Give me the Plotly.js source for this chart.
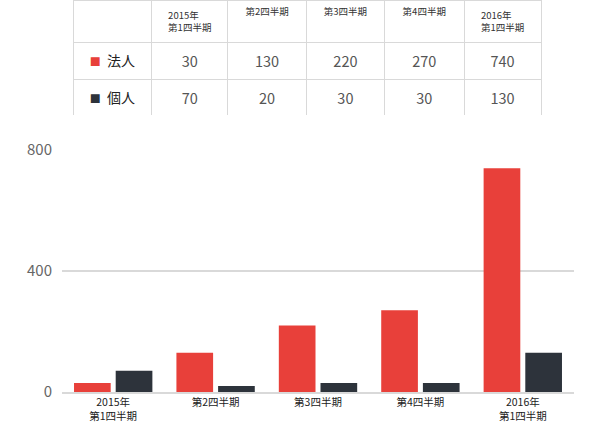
<!DOCTYPE html>
<html>
<head>
<meta charset="utf-8">
<script src="https://cdn.plot.ly/plotly-3.0.1.min.js"></script>
<style>
  html, body { margin: 0; padding: 0; background: #fff; }
  #chart { width: 590px; height: 424px; }
</style>
</head>
<body>
<div id="chart"></div>
<script>
// quarters (axis labels and table header)
var quarters = ['2015年<br>第1四半期', '第2四半期', '第3四半期', '第4四半期', '2016年<br>第1四半期'];
var seriesNames = ['法人', '個人'];
var corporate = [30, 130, 220, 270, 740];
var individual = [70, 20, 30, 30, 130];
var yTicks = [0, 400, 800];

var red = '#e8403a';
var dark = '#2d333b';
var jp = '"Noto Sans CJK JP", "Noto Sans", sans-serif';
var nb = '\u00a0';

var barCorp = {
    x: quarters,
    y: corporate,
    name: seriesNames[0],
    type: 'bar',
    marker: { color: red },
    hoverinfo: 'y'
};

var barIndiv = {
    x: quarters,
    y: individual,
    name: seriesNames[1],
    type: 'bar',
    marker: { color: dark },
    hoverinfo: 'y'
};

// table columns: the series labels with a colour square, then one column per quarter.
// The table wraps cell text at spaces; "<a href=" is the one tag it keeps whole,
// so the coloured square goes in an anchor with its style glued on after the href.
function swatch(color, label) {
    return '<a href="#"style="color:' + color + ';font-size:11px">■</a>' + nb + nb + label;
}
// numbers go through the same markup path so they sit on the same line as the labels
function num(v) {
    return '<span>' + v + '</span>';
}
var cellCols = [[swatch(red, seriesNames[0]), swatch(dark, seriesNames[1])]];
var cellColors = ['#222'];
var cellSizes = [14];
for (var i = 0; i < quarters.length; i++) {
    cellCols.push([num(corporate[i]), num(individual[i])]);
    cellColors.push('#555');
    cellSizes.push(14.5);
}

var table = {
    type: 'table',
    domain: { x: [0.0215, 0.9375], y: [0.705, 1] },
    columnwidth: [79, 76, 79, 78, 80, 77],
    header: {
        values: [''].concat(quarters),
        align: 'center',
        height: 38,
        fill: { color: '#fff' },
        line: { color: '#d9d9d9', width: 1 },
        font: { family: jp, size: 9.5, color: '#333' }
    },
    cells: {
        values: cellCols,
        align: 'center',
        height: 37,
        fill: { color: '#fff' },
        line: { color: '#d9d9d9', width: 1 },
        font: { family: jp, size: cellSizes, color: cellColors }
    }
};

var layout = {
    width: 590,
    height: 424,
    margin: { l: 62, r: 16, t: 0, b: 32 },
    paper_bgcolor: '#fff',
    plot_bgcolor: '#fff',
    showlegend: false,
    barmode: 'group',
    bargap: 0.186,
    bargroupgap: 0.12,
    font: { family: jp, color: '#333' },
    xaxis: {
        tickfont: { family: jp, size: 10.5, color: '#222' },
        showline: true,
        linecolor: '#d9d9d9',
        linewidth: 1.5,
        ticks: '',
        fixedrange: true
    },
    yaxis: {
        domain: [0, 0.6173],
        range: [0, 800],
        tickvals: yTicks,
        tickfont: { family: jp, size: 15, color: '#666' },
        gridcolor: '#d9d9d9',
        gridwidth: 1.5,
        zeroline: false,
        ticks: 'outside',
        ticklen: 6,
        tickcolor: 'rgba(0,0,0,0)',
        fixedrange: true
    }
};

Plotly.newPlot('chart', [barCorp, barIndiv, table], layout, { displayModeBar: false, staticPlot: true });
</script>
</body>
</html>
